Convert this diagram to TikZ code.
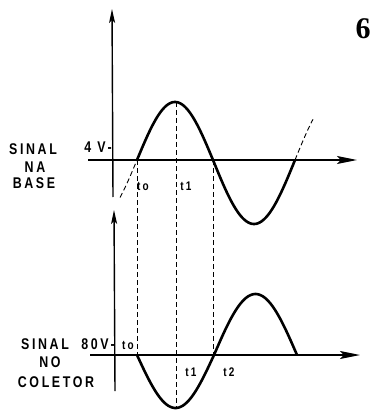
\documentclass[tikz,border=0pt]{standalone}
\usepackage{fontspec}
\usetikzlibrary{arrows.meta}
\newfontfamily\lblfont[LetterSpace=17,FakeStretch=0.8]{Liberation Sans Bold}
\newfontfamily\numfont{Liberation Serif Bold}
\begin{document}
\begin{tikzpicture}[x=1pt,y=-1pt,
  axis/.style={line width=1.4pt},
  harr/.style={-{Stealth[length=20pt,width=8pt,inset=4pt]}},
  varr/.style={-{Stealth[length=14pt,width=6pt,inset=3pt]}},
  wave/.style={line width=2.6pt},
  guide/.style={line width=0.9pt,dash pattern=on 5pt off 3pt},
  lbl/.style={font=\lblfont\fontsize{15.5}{15.5}\selectfont,inner sep=0pt},
  tlbl/.style={font=\lblfont\fontsize{12.5}{12.5}\selectfont,inner sep=0pt}]
\useasboundingbox (0,0) rectangle (374,414);
\fill[white] (0,0) rectangle (374,414);
% figure number
\node[font=\numfont\fontsize{30}{30}\selectfont,inner sep=0pt] (fig) at (363,29) {6};
% top graph axes
\coordinate (tvb) at (113,197);
\coordinate (tvt) at (112,9);
\coordinate (thl) at (88,160);
\coordinate (thr) at (357,160);
\draw[axis,varr] (tvb) -- (tvt);
\draw[axis,harr] (thl) -- (thr);
% top wave
\draw[wave] plot[domain=137:213,samples=60] (\x,{160-58*sin((\x-137)/76*180)});
\draw[wave] plot[domain=213:295,samples=60] (\x,{160+64*sin((\x-213)/82*180)});
\draw[guide] plot[domain=295:313,samples=20] (\x,{160-64*sin((\x-295)/82*180)});
\draw[guide] plot[domain=120:137,samples=20] (\x,{160-58*sin((\x-137)/76*180)});
% bottom graph axes
\coordinate (bvb) at (115,391);
\coordinate (bvt) at (114,210);
\coordinate (bhl) at (90,355);
\coordinate (bhr) at (360,355);
\draw[axis,varr] (bvb) -- (bvt);
\draw[axis,harr] (bhl) -- (bhr);
% bottom wave
\draw[wave] plot[domain=137:214,samples=60] (\x,{355+53*sin((\x-137)/77*180)});
\draw[wave] plot[domain=214:297,samples=60] (\x,{355-61*sin((\x-214)/83*180)});
% guides
\draw[guide] (137,160) -- (137,355);
\draw[guide] (176,102) -- (176,407);
\draw[guide] (213,160) -- (213,355);
% labels top
\node[lbl] (s1) at (33,149) {SINAL};
\node[lbl] (s2) at (35,167) {NA};
\node[lbl] (s3) at (34,183) {BASE};
\node[lbl,anchor=east] (v4) at (112,147) {4 V-};
\node[tlbl] (t0a) at (143,186) {to};
\node[tlbl] (t1a) at (186,186) {t1};
% labels bottom
\node[lbl] (c1) at (45,344) {SINAL};
\node[lbl] (c2) at (50,362) {NO};
\node[lbl] (c3) at (56,382) {COLETOR};
\node[lbl,anchor=east] (v80) at (115,344) {80V-};
\node[tlbl] (t0b) at (128,345) {to};
\node[tlbl] (t1b) at (191,372) {t1};
\node[tlbl] (t2b) at (229,372) {t2};
\end{tikzpicture}
\end{document}
